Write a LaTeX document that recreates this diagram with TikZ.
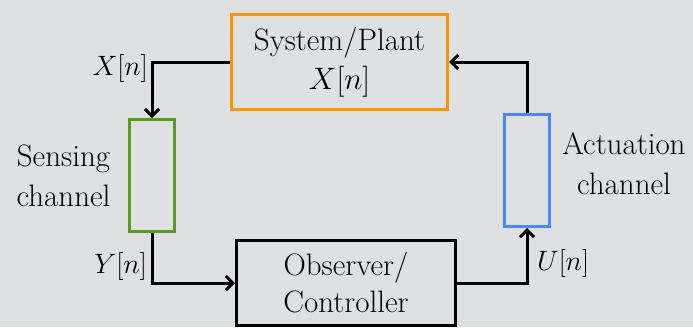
\RequirePackage{fix-cm}
\documentclass[tikz,border=0pt]{standalone}
\usetikzlibrary{arrows.meta}
\definecolor{bgc}{HTML}{DFE0E2}
\definecolor{orangec}{HTML}{FF9400}
\definecolor{greenc}{HTML}{5A9A1E}
\definecolor{bluec}{HTML}{4A86FF}
\begin{document}
\begin{tikzpicture}[x=1pt,y=-1pt,
  every node/.style={font=\fontsize{31}{40}\selectfont},
  blk/.style={draw, line width=3pt, rectangle, inner sep=0pt, align=center},
  arr/.style={draw=black, line width=3pt, -{Straight Barb[length=7pt,width=14pt,line width=3pt]}},
  lbl/.style={inner sep=0pt, align=center},
  mlbl/.style={inner sep=0pt, font=\fontsize{28}{34}\selectfont}]
\fill[bgc] (0,0) rectangle (693,327);
\useasboundingbox (0,0) rectangle (693,327);
\node[blk, draw=orangec, minimum width=216pt, minimum height=95pt] (sys) at (339.5,62) {System/Plant\\[-1pt]$X[n]$};
\node[blk, draw=greenc, minimum width=45pt, minimum height=112pt] (sens) at (152,175.5) {};
\node[blk, draw=bluec, minimum width=45pt, minimum height=112pt] (act) at (527,170.5) {};
\node[blk, draw=black, minimum width=219pt, minimum height=85pt] (obs) at (346,283) {Observer/\\[-3pt]Controller};
\node[lbl] (senst) at (63.5,176) {Sensing\\channel};
\node[lbl] (actt) at (624,164) {Actuation\\channel};
\node[mlbl, anchor=east] (xl) at (148,68) {$X[n]$};
\node[mlbl, anchor=east] (yl) at (147,266) {$Y[n]$};
\node[mlbl, anchor=west] (ul) at (537,263) {$U[n]$};
\draw[arr] (sys.west) -| (sens.north);
\draw[arr] (sens.south) |- (obs.west);
\draw[arr] (obs.east) -| (act.south);
\draw[arr] (act.north) |- (sys.east);
\end{tikzpicture}
\end{document}
